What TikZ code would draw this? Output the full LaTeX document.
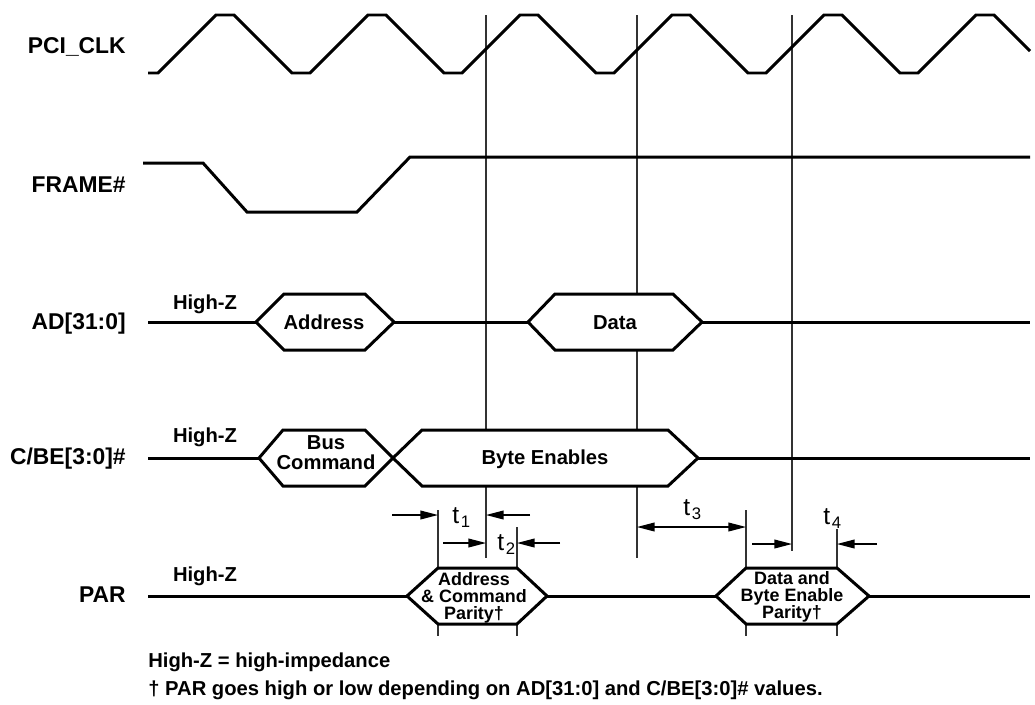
\documentclass[tikz,border=0pt]{standalone}
\usepackage{fontspec}
\setmainfont{Liberation Sans}
\usetikzlibrary{arrows.meta,positioning}

% one value on a bus: left tip, inner left, inner right, right tip, level
\newcommand{\busval}[5]{%
  \draw[sig,fill=white] (#1,#5) -- (#2,#5-28) -- (#3,#5-28) -- (#4,#5)
    -- (#3,#5+28) -- (#2,#5+28) -- cycle;}
\newcommand{\tsub}[1]{{\fontsize{14}{14}\selectfont t}\kern1pt\raisebox{-2.5pt}{\fontsize{9.5}{9.5}\selectfont #1}}

\begin{document}
\begin{tikzpicture}[x=0.02cm,y=-0.02cm,
    sig/.style={line width=1.7pt},
    guide/.style={line width=0.7pt,black!80},
    dim/.style={line width=0.7pt,-{Triangle[length=10pt,width=5pt]}},
    dimboth/.style={line width=0.7pt,{Triangle[length=10pt,width=5pt]}-{Triangle[length=10pt,width=5pt]}},
    signame/.style={font=\bfseries\fontsize{13}{13}\selectfont,anchor=base east,inner sep=0},
    hiz/.style={font=\bfseries\fontsize{11.5}{11.5}\selectfont,anchor=base,inner sep=0},
    busl/.style={font=\bfseries\fontsize{11.5}{11.3}\selectfont,align=center,inner sep=0},
    parl/.style={font=\bfseries\fontsize{10.2}{9.6}\selectfont,align=center,inner sep=0},
    note/.style={font=\bfseries\fontsize{11.5}{11.5}\selectfont,anchor=base west,inner sep=0}]
    \useasboundingbox (0,0) rectangle (1035,704);

    % signal names
    \node[signame] (clk)   at (126,53)  {PCI\_CLK};
    \node[signame] (frame) at (126,192) {FRAME\#};
    \node[signame] (ad)    at (126,329) {AD[31:0]};
    \node[signame] (cbe)   at (126,464) {C/BE[3:0]\#};
    \node[signame] (par)   at (126,602) {PAR};

    % edge and sample lines
    \coordinate (e1top) at (486,15);  \coordinate (e1bot) at (486,558);
    \coordinate (e2top) at (637,15);  \coordinate (e2bot) at (637,558);
    \coordinate (e3top) at (792,15);  \coordinate (e3bot) at (792,551);
    \coordinate (p1top) at (438,510); \coordinate (p1bot) at (438,636);
    \coordinate (p2top) at (517,527); \coordinate (p2bot) at (517,636);
    \coordinate (p3top) at (746,510); \coordinate (p3bot) at (746,636);
    \coordinate (p4top) at (837,529); \coordinate (p4bot) at (837,636);
    \begin{scope}[guide]
        \draw (e1top) -- (e1bot);
        \draw (e2top) -- (e2bot);
        \draw (e3top) -- (e3bot);
        \draw (p1top) -- (p1bot);
        \draw (p2top) -- (p2bot);
        \draw (p3top) -- (p3bot);
        \draw (p4top) -- (p4bot);
    \end{scope}

    % clock
    \draw[sig] (148,73) -- (158,73)
        \foreach \k in {0,...,4}{ -- ({216+152*\k},15) -- ({234+152*\k},15)
                                   -- ({292+152*\k},73) -- ({310+152*\k},73)}
        -- (976,15) -- (994,15) -- (1030,51);

    % frame
    \draw[sig] (143,163) -- (203,163) -- (247,212) -- (357,212) -- (410,157) -- (1030,157);

    % address/data bus
    \draw[sig] (148,322) -- (1030,322);
    \busval{256}{284}{365}{394}{322}
    \busval{528}{555}{673}{702}{322}
    \node[hiz] (adz)  at (205,309) {High-Z};
    \node[hiz] (addr) at (324,329) {Address};
    \node[hiz] (data) at (615,329) {Data};

    % command/byte enables
    \draw[sig] (148,458) -- (1030,458);
    \busval{259}{283}{365}{393}{458}
    \busval{393}{422}{668}{698}{458}
    \node[hiz]  (cbez) at (205,442) {High-Z};
    \node[busl] (bus)  at (326,453) {Bus\\Command};
    \node[hiz]  (be)   at (545,464) {Byte Enables};

    % parity
    \draw[sig] (148,596) -- (1030,596);
    \busval{407}{438}{517}{547}{596}
    \busval{716}{746}{837}{869}{596}
    \node[hiz]  (parz) at (205,581) {High-Z};
    \node[parl] (acp)  at (474,598) {Address\\\& Command\\Parity†};
    \node[parl] (dbp)  at (792,597) {Data and\\Byte Enable\\Parity†};

    % timing parameters
    \coordinate (t1a) at (392,515); \coordinate (t1b) at (530,515);
    \coordinate (t2a) at (443,543); \coordinate (t2b) at (560,543);
    \coordinate (t4a) at (752,544); \coordinate (t4b) at (877,544);
    \draw[dim] (t1a) -- (t1a -| p1top);
    \draw[dim] (t1b) -- (t1b -| e1top);
    \draw[dim] (t2a) -- (t2a -| e1top);
    \draw[dim] (t2b) -- (t2b -| p2top);
    \draw[dimboth] (e2top |- 0,527) -- (p3top |- 0,527);
    \draw[dim] (t4a) -- (t4a -| e3top);
    \draw[dim] (t4b) -- (t4b -| p4top);
    \node[anchor=base west,inner sep=0] (t1) at (452,523) {\tsub{1}};
    \node[anchor=base west,inner sep=0] (t2) at (497,550) {\tsub{2}};
    \node[anchor=base west,inner sep=0] (t3) at (683,515) {\tsub{3}};
    \node[anchor=base west,inner sep=0] (t4) at (823,524) {\tsub{4}};

    % notes
    \node[note] (n1) at (148,667) {High-Z = high-impedance};
    \node[note] (n2) at (148,695) {† PAR goes high or low depending on AD[31:0] and C/BE[3:0]\# values.};
\end{tikzpicture}
\end{document}
